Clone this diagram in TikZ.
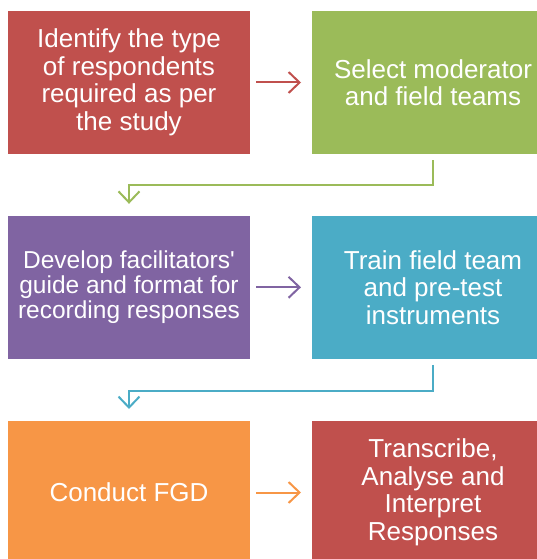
\documentclass[tikz,border=0pt]{standalone}
\usepackage{fontspec}
\setmainfont{Liberation Sans}
\usetikzlibrary{arrows.meta}

\definecolor{stepred}{HTML}{C0504D}
\definecolor{stepgreen}{HTML}{9BBB59}
\definecolor{steppurple}{HTML}{8064A2}
\definecolor{stepteal}{HTML}{4BACC6}
\definecolor{steporange}{HTML}{F79646}

\begin{document}
\begin{tikzpicture}[x=1pt,y=-1pt,>={Straight Barb[length=11pt,width=21pt]},line width=2pt,
  stage/.style={rectangle,minimum width=242pt,minimum height=143pt,inner sep=0pt,align=center,text=white,font=\fontsize{26}{27.5}\selectfont},
  next/.style={->,shorten <=5pt,shorten >=10pt},
  link/.style={->,shorten <=5pt,shorten >=11pt}]

	      \useasboundingbox (0,0) rectangle (537,559);
	      \begin{scope}
	      \clip (0,0) rectangle (537,559);
	      \node[stage,fill=stepred] at (129,82.5) (ident) {Identify the type\\of respondents\\required as per\\the study};
	      \node[stage,fill=stepgreen] at (433,82.5) (select) {Select moderator\\and field teams};
	      \node[stage,fill=steppurple,font=\fontsize{24.5}{25}\selectfont] at (129,287.3) (develop) {Develop facilitators\textquotesingle\\guide and format for\\recording responses};
	      \node[stage,fill=stepteal] at (433,287.3) (train) {Train field team\\and pre-test\\instruments};
	      \node[stage,fill=steporange] at (129,492.5) (conduct) {Conduct FGD};
	      \node[stage,fill=stepred] at (433,492.5) (transcribe) {Transcribe,\\Analyse and\\Interpret\\Responses};
	      \end{scope}

	      \draw[next,stepred] (ident) -- (select);
	      \draw[next,steppurple] (develop) -- (train);
	      \draw[next,steporange] (conduct) -- (transcribe);

	      \draw[link,stepgreen] (select.south) -- ++(0,30) -| (develop.north);
	      \draw[link,stepteal] (train.south) -- ++(0,31.5) -| (conduct.north);

	    \end{tikzpicture}
\end{document}
